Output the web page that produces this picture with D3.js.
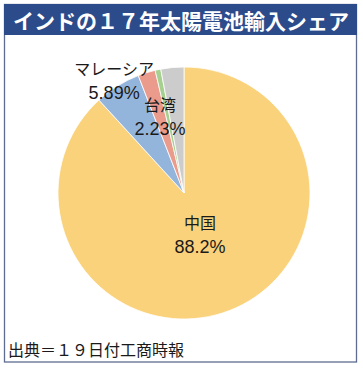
<!DOCTYPE html>
<html>
<head>
<meta charset="utf-8">
<script src="https://cdn.jsdelivr.net/npm/d3@7"></script>
<style>
  body { margin: 0; background: #fff; }
  text { font-family: "Noto Sans CJK JP", "Noto Sans", sans-serif; }
  .pct { font-family: "Liberation Sans", "DejaVu Sans", sans-serif; }
</style>
</head>
<body>
<div id="chart"></div>
<script>
// data
var title = "インドの１７年太陽電池輸入シェア";
var source = "出典＝１９日付工商時報";
var categories = ["中国", "マレーシア", "台湾", "その他A", "その他B"];
var shares = [88.2, 5.89, 2.23, 0.73, 2.95];
var shareLabels = ["88.2%", "5.89%", "2.23%", "", ""];
var colors = ["#f9d27b", "#93b5dc", "#eb9b8c", "#a6d08f", "#cccccc"];

var W = 363, H = 369;
var svg = d3.select("#chart").append("svg").attr("width", W).attr("height", H);

// frame
svg.append("rect")
  .attr("x", 4.5).attr("y", 4.5).attr("width", 352).attr("height", 357.5)
  .attr("fill", "#fff").attr("stroke", "#5d6c90").attr("stroke-width", 1.3);

// title bar
svg.append("rect")
  .attr("x", 4).attr("y", 4).attr("width", 353).attr("height", 31)
  .attr("fill", "#2c4b8b");
svg.append("text")
  .attr("x", 181).attr("y", 20)
  .attr("text-anchor", "middle").attr("dominant-baseline", "central")
  .attr("fill", "#fff").attr("font-size", 21).attr("font-weight", "bold")
  .text(title);

// pie
var cx = 184, cy = 193, R = 126;
var pie = d3.pie().sort(null).value(function(d) { return d; });
var arcs = pie(shares);
var arc = d3.arc().innerRadius(0).outerRadius(R);

var g = svg.append("g").attr("transform", "translate(" + cx + "," + cy + ")");
g.selectAll("path").data(arcs).enter().append("path")
  .attr("d", arc)
  .attr("fill", function(d, i) { return colors[i]; })
  .attr("stroke", "#fff").attr("stroke-width", 0.8);

// labels (only the first three are labelled)
var labelRadius = [0.35, 1.05, 0.64];
arcs.slice(0, 3).forEach(function(d, i) {
  var lr = labelRadius[i] * R;
  var pos = d3.arc().innerRadius(lr).outerRadius(lr).centroid(d);
  g.append("text")
    .attr("x", pos[0]).attr("y", pos[1] - 12.5)
    .attr("text-anchor", "middle").attr("dominant-baseline", "central")
    .attr("font-size", 16).attr("fill", "#1a1a1a")
    .text(categories[i]);
  g.append("text").attr("class", "pct")
    .attr("x", pos[0]).attr("y", pos[1] + 12.5)
    .attr("text-anchor", "middle").attr("dominant-baseline", "central")
    .attr("font-size", 18).attr("fill", "#1a1a1a")
    .text(shareLabels[i]);
});

// source
svg.append("text")
  .attr("x", 8).attr("y", 349)
  .attr("dominant-baseline", "central")
  .attr("font-size", 16).attr("fill", "#1a1a1a")
  .text(source);
</script>
</body>
</html>
